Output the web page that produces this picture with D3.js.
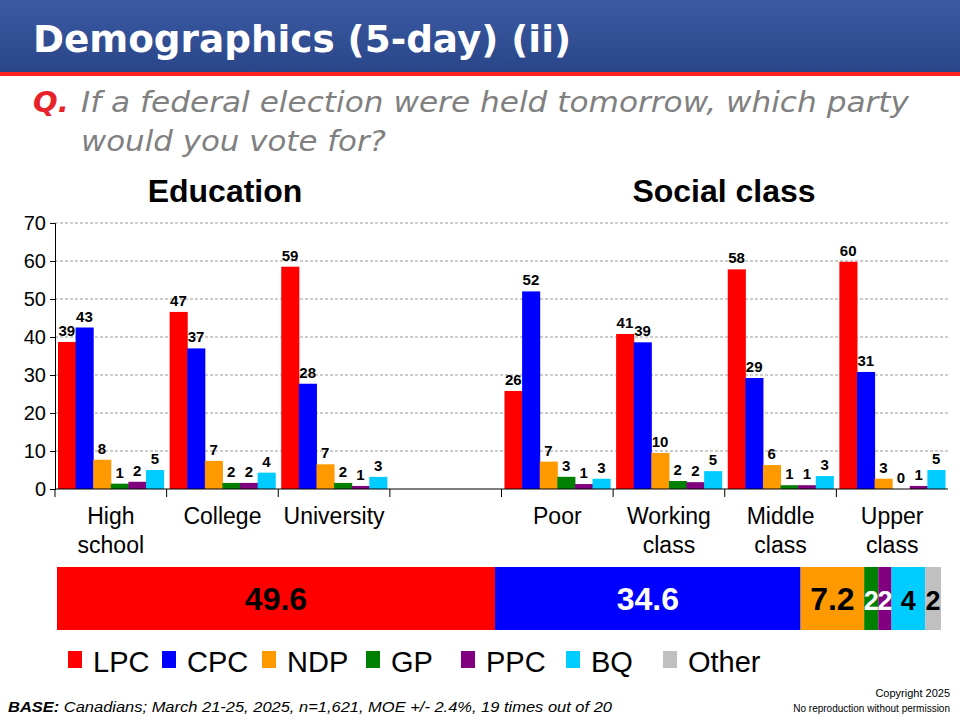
<!DOCTYPE html>
<html><head><meta charset="utf-8">
<script src="https://cdn.jsdelivr.net/npm/d3@7"></script>
<style>body{margin:0;background:#fff}svg{display:block;font-family:"Liberation Sans",Arial,sans-serif}</style>
</head><body><svg id="c" width="960" height="720"></svg>
<script>
var parties = ["LPC","CPC","NDP","GP","PPC","BQ","Other"];
var colors = ["#ff0000","#0000ff","#ff9900","#008000","#800080","#00ccff","#c0c0c0"];
var groups = ["High|school","College","University","","Poor","Working|class","Middle|class","Upper|class"];
var lpc = [38.7,46.6,58.5,null,25.8,40.8,57.8,59.8];
var cpc = [42.5,37.0,27.7,null,52.0,38.6,29.2,30.8];
var ndp = [7.7,7.4,6.5,null,7.2,9.5,6.3,2.7];
var gp  = [1.4,1.6,1.6,null,3.2,2.1,1.0,0];
var ppc = [1.9,1.6,0.8,null,1.3,1.8,1.0,0.8];
var bq  = [5.0,4.3,3.2,null,2.7,4.7,3.4,5.0];
var totalVals = [49.6,34.6,7.2,1.6,1.5,3.8,1.8];
var totalLabels = ["49.6","34.6","7.2","2","2","4","2"];
var yTicks = [0,10,20,30,40,50,60,70];

var svg = d3.select("#c");
var defs = svg.append("defs");
var g0 = defs.append("linearGradient").attr("id","hdr").attr("x1",0).attr("y1",0).attr("x2",0).attr("y2",1);
g0.append("stop").attr("offset","0").attr("stop-color","#3b5aa3");
g0.append("stop").attr("offset","1").attr("stop-color","#2a4689");
svg.append("rect").attr("width",960).attr("height",72).attr("fill","url(#hdr)");
svg.append("rect").attr("y",72).attr("width",960).attr("height",4).attr("fill","#ff2020");
svg.append("text").attr("x",33).attr("y",52).attr("fill","#fff").attr("font-size",38).attr("font-weight","bold")
  .attr("font-family","DejaVu Sans").attr("textLength",538).attr("lengthAdjust","spacingAndGlyphs").text("Demographics (5-day) (ii)");

svg.append("text").attr("x",33).attr("y",112).attr("fill","#e8222a").attr("font-size",29).attr("font-weight","bold").attr("font-style","italic").attr("font-family","DejaVu Sans").text("Q.");
svg.append("text").attr("x",81).attr("y",112).attr("fill","#808080").attr("font-size",29).attr("font-style","italic")
  .attr("font-family","DejaVu Sans").attr("textLength",828).attr("lengthAdjust","spacingAndGlyphs").text("If a federal election were held tomorrow, which party");
svg.append("text").attr("x",81).attr("y",151).attr("fill","#808080").attr("font-size",29).attr("font-style","italic")
  .attr("font-family","DejaVu Sans").attr("textLength",305).attr("lengthAdjust","spacingAndGlyphs").text("would you vote for?");

svg.append("text").attr("x",225).attr("y",202).attr("text-anchor","middle").attr("font-size",32).attr("font-weight","bold").text("Education");
svg.append("text").attr("x",724).attr("y",202).attr("text-anchor","middle").attr("font-size",32).attr("font-weight","bold").text("Social class");

var x = d3.scaleBand().domain(d3.range(groups.length)).range([55,948]);
var y = d3.scaleLinear().domain([0,70]).range([489,223]);
var series = [lpc,cpc,ndp,gp,ppc,bq];
var xi = d3.scaleBand().domain(d3.range(6)).range([3,x.bandwidth()-3]);

svg.append("g").selectAll("line").data(yTicks.slice(1)).join("line")
  .attr("x1",55).attr("x2",948).attr("y1",d=>y(d)).attr("y2",d=>y(d))
  .attr("stroke","#999").attr("stroke-dasharray","3,2");

var yAxis = svg.append("g").attr("transform","translate(55,0)").call(d3.axisLeft(y).tickValues(yTicks).tickSize(5).tickPadding(4));
yAxis.selectAll("text").attr("font-size",20).attr("fill","#000");
yAxis.select(".domain").attr("stroke","#000");

groups.forEach(function(gname,gi){
  if(!gname) return;
  series.forEach(function(s,si){
    var v = s[gi];
    var bx = x(gi)+xi(si);
    svg.append("rect").attr("x",bx).attr("y",y(v)).attr("width",xi.bandwidth()+0.5).attr("height",y(0)-y(v)).attr("fill",colors[si]);
    svg.append("text").attr("x",bx+xi.bandwidth()/2).attr("y",y(v)-6).attr("text-anchor","middle")
      .attr("font-size",15).attr("font-weight","bold").text(Math.round(v));
  });
  var lines = gname.split("|");
  lines.forEach(function(l,li){
    svg.append("text").attr("x",x(gi)+x.bandwidth()/2).attr("y",524+li*29).attr("text-anchor","middle").attr("font-size",23).text(l);
  });
});
svg.append("line").attr("x1",55).attr("x2",948).attr("y1",y(0)).attr("y2",y(0)).attr("stroke","#000");
svg.append("g").selectAll("line").data([0,1,2,3,4,5,6,7]).join("line")
  .attr("x1",d=>x(d)).attr("x2",d=>x(d)).attr("y1",489).attr("y2",497).attr("stroke","#000");

var xs = d3.scaleLinear().domain([0,d3.sum(totalVals)]).range([57,941]);
var cum = 0;
var textCol = ["#000","#fff","#000","#fff","#fff","#000","#000"];
totalVals.forEach(function(v,i){
  var x0 = xs(cum), x1 = xs(cum+v); cum += v;
  svg.append("rect").attr("x",x0).attr("y",567).attr("width",x1-x0).attr("height",63).attr("fill",colors[i]);
  svg.append("text").attr("x",(x0+x1)/2).attr("y",610).attr("text-anchor","middle").attr("font-size",i<3?32:27)
    .attr("font-weight","bold").attr("fill",textCol[i]).text(totalLabels[i]);
});

var legX = [68,162,262,366,461,566,663];
parties.forEach(function(p,i){
  svg.append("rect").attr("x",legX[i]).attr("y",651).attr("width",14).attr("height",17).attr("fill",colors[i]);
  svg.append("text").attr("x",legX[i]+25).attr("y",672).attr("font-size",29).text(p);
});

var base = svg.append("text").attr("x",8).attr("y",712).attr("font-size",15).attr("font-style","italic")
  .attr("textLength",604).attr("lengthAdjust","spacingAndGlyphs");
base.append("tspan").attr("font-weight","bold").text("BASE:");
base.append("tspan").text(" Canadians; March 21-25, 2025, n=1,621, MOE +/- 2.4%, 19 times out of 20");
svg.append("text").attr("x",950).attr("y",697).attr("text-anchor","end").attr("font-size",11).text("Copyright 2025");
svg.append("text").attr("x",950).attr("y",712).attr("text-anchor","end").attr("font-size",10).text("No reproduction without permission");
</script></body></html>
